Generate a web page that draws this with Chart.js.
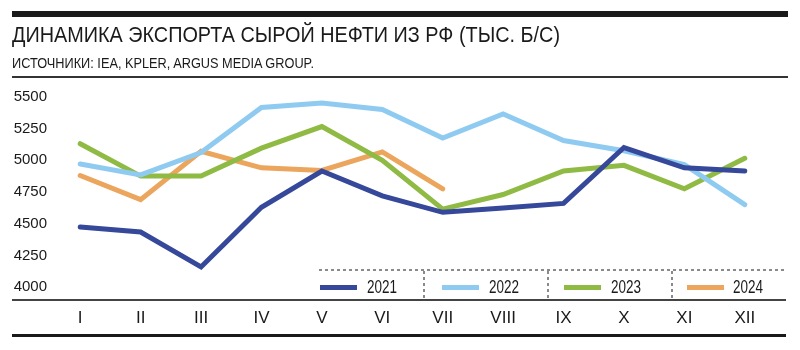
<!DOCTYPE html>
<html>
<head>
<meta charset="utf-8">
<script src="https://cdn.jsdelivr.net/npm/chart.js@4/dist/chart.umd.min.js"></script>
<style>
  html, body { margin: 0; padding: 0; background: #fff; }
  #wrap { position: relative; width: 800px; height: 350px; overflow: hidden; font-family: "Liberation Sans", Arial, sans-serif; color: #1a1a1a; }
  #c { position: absolute; left: 0; top: 0; }
  .abs { position: absolute; }
  .fit { transform-origin: 0 0; }
  .title { left: 12px; top: 23.5px; font-size: 22px; line-height: 22px; white-space: nowrap; }
  .sub { left: 12px; top: 54.5px; font-size: 15px; line-height: 15px; white-space: nowrap; }
  .hl { background: #1a1a1a; }
  .dash-h { height: 2px; background: repeating-linear-gradient(to right, #8a8a8a 0 3px, transparent 3px 6px); }
  .dash-v { width: 2px; background: repeating-linear-gradient(to bottom, #8a8a8a 0 3px, transparent 3px 6px); }
  .sw { height: 5px; width: 37px; }
  .lt { font-size: 17.5px; line-height: 17.5px; white-space: nowrap; }
</style>
</head>
<body>
<div id="wrap">
  <canvas id="c" width="800" height="350"></canvas>
  <div class="abs hl" style="left:12px;top:11px;width:776px;height:6px;"></div>
  <div class="abs title fit" data-w="548">ДИНАМИКА ЭКСПОРТА СЫРОЙ НЕФТИ ИЗ РФ (ТЫС. Б/С)</div>
  <div class="abs sub fit" data-w="302">ИСТОЧНИКИ: IEA, KPLER, ARGUS MEDIA GROUP.</div>
  <div class="abs hl" style="left:12px;top:76px;width:776px;height:2px;background:#333;"></div>
  <div class="abs hl" style="left:12px;top:299px;width:774px;height:2px;background:#444;"></div>
  <div class="abs hl" style="left:12px;top:334px;width:774px;height:3px;"></div>
  <div id="legend"></div>
</div>
<script>
const categories = ["I","II","III","IV","V","VI","VII","VIII","IX","X","XI","XII"];
const years = ["2021","2022","2023","2024"];
const s2021 = [4475, 4435, 4160, 4630, 4915, 4720, 4590, 4625, 4660, 5100, 4940, 4915];
const s2022 = [4970, 4885, 5060, 5415, 5450, 5400, 5175, 5365, 5155, 5075, 4965, 4650];
const s2023 = [5130, 4875, 4875, 5095, 5265, 5000, 4615, 4730, 4915, 4960, 4775, 5015];
const s2024 = [4880, 4690, 5070, 4940, 4920, 5065, 4775];
const yTicks = [4000, 4250, 4500, 4750, 5000, 5250, 5500];
const colors = ["#36489a", "#8fcbf1", "#8fba43", "#eba55c"];

const seriesList = [s2021, s2022, s2023, s2024];

// legend (HTML)
const legend = document.getElementById('legend');
const legendSw = [320, 442, 564, 687];
const legendTx = [367, 489, 611, 733];
let html = '<div class="abs dash-h" style="left:319px;top:269px;width:466px;"></div>';
[423, 547, 671].forEach(x => { html += '<div class="abs dash-v" style="left:' + x + 'px;top:271px;height:29px;"></div>'; });
years.forEach((y, i) => {
  html += '<div class="abs sw" style="left:' + legendSw[i] + 'px;top:284.5px;background:' + colors[i] + ';"></div>';
  html += '<div class="abs lt fit" data-w="30" style="left:' + legendTx[i] + 'px;top:279px;">' + y + '</div>';
});
legend.innerHTML = html;

// condense text horizontally to the measured widths
document.querySelectorAll('.fit').forEach(el => {
  const w = el.getBoundingClientRect().width;
  const target = parseFloat(el.dataset.w);
  if (w > 0) el.style.transform = 'scaleX(' + (target / w) + ')';
});

const fontFam = '"Liberation Sans", Arial, sans-serif';

new Chart(document.getElementById('c'), {
  type: 'line',
  data: {
    labels: categories,
    datasets: years.map((y, i) => ({
      label: y,
      data: seriesList[i],
      borderColor: colors[i],
      backgroundColor: colors[i],
      borderWidth: 5,
      pointRadius: 0,
      borderCapStyle: 'round',
      borderJoinStyle: 'miter',
      tension: 0,
      fill: false
    }))
  },
  options: {
    responsive: false,
    animation: false,
    devicePixelRatio: 1,
    layout: { padding: { left: 0, right: 25, top: 84, bottom: 0 } },
    plugins: { legend: { display: false }, tooltip: { enabled: false }, title: { display: false } },
    scales: {
      x: {
        offset: true,
        grid: { display: false, drawTicks: false },
        border: { display: false },
        ticks: { color: '#1a1a1a', font: { family: fontFam, size: 17 }, padding: 8, maxRotation: 0, autoSkip: false },
        afterFit: (s) => { s.height = 50; }
      },
      y: {
        min: 3900,
        max: 5600,
        grid: { display: false, drawTicks: false },
        border: { display: false },
        afterBuildTicks: (s) => { s.ticks = yTicks.map(v => ({ value: v })); },
        ticks: { color: '#1a1a1a', font: { family: fontFam, size: 15 }, padding: 3, callback: (v) => String(v) },
        afterFit: (s) => { s.width = 50; }
      }
    }
  }
});
</script>
</body>
</html>
